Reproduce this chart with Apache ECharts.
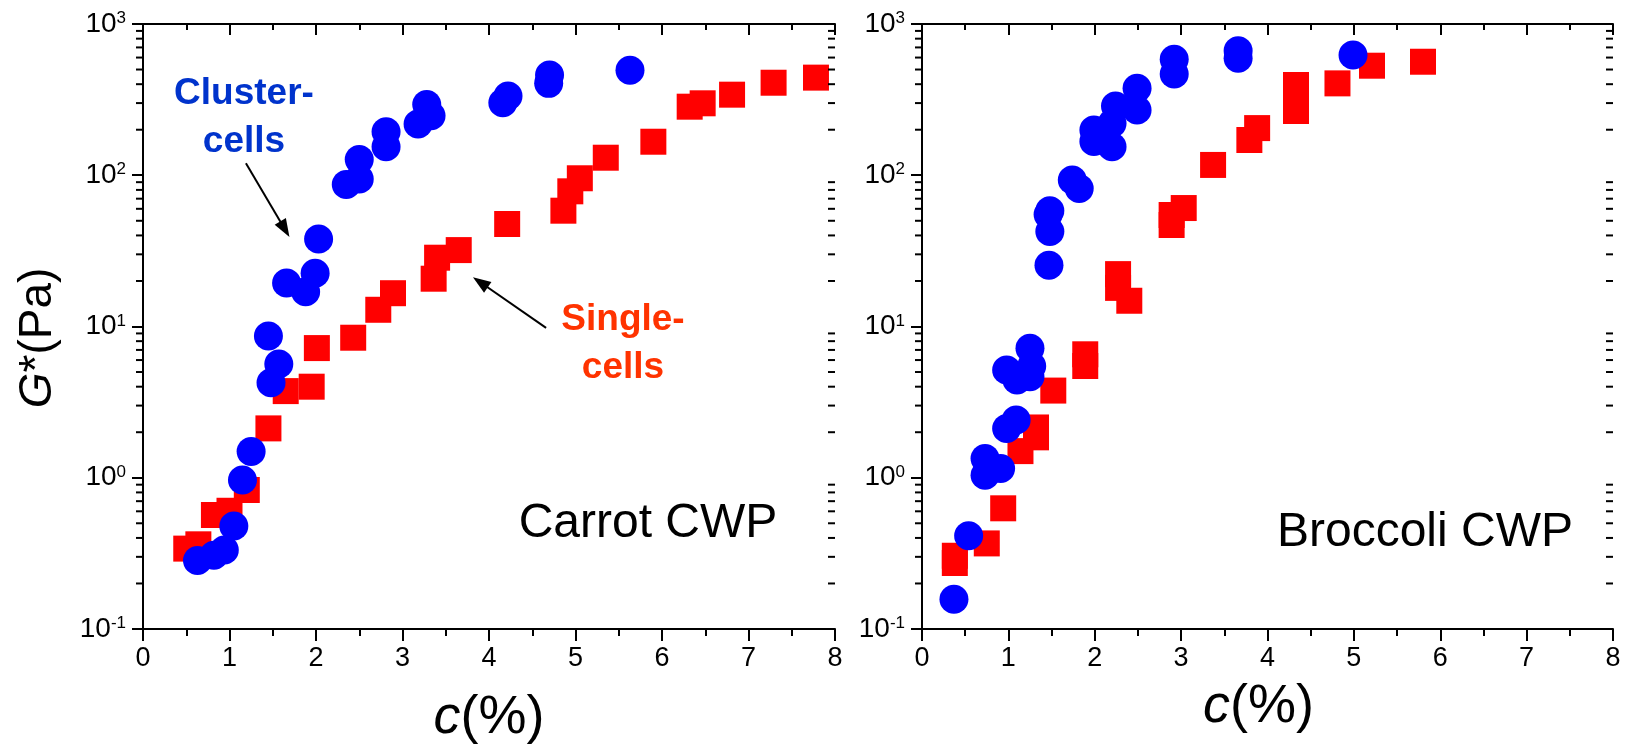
<!DOCTYPE html>
<html>
<head>
<meta charset="utf-8">
<title>G* vs c — Carrot and Broccoli CWP</title>
<script src="https://cdn.jsdelivr.net/npm/echarts@6/dist/echarts.min.js"></script>
<style>
  html, body { margin: 0; padding: 0; background: #fff; }
  #chart { width: 1633px; height: 756px; }
</style>
</head>
<body>
<div id="chart"></div>
<script>
// ---- Carrot CWP ----
const carrotClusterC = [0.63, 0.82, 0.94, 1.05, 1.15, 1.25, 1.45, 1.48, 1.57, 1.66, 1.88, 1.99, 2.03, 2.35, 2.50, 2.50, 2.81, 2.81, 3.18, 3.28, 3.33, 4.16, 4.22, 4.69, 4.70, 5.63];
const carrotClusterG = [0.284, 0.307, 0.333, 0.48, 0.966, 1.49, 8.65, 4.25, 5.65, 19.4, 17.0, 22.5, 37.9, 87, 94.5, 127, 154.5, 194, 218, 294, 247, 302, 334, 405, 460, 494];
const carrotSingleC = [0.50, 0.64, 0.82, 1.00, 1.20, 1.45, 1.65, 1.95, 2.01, 2.43, 2.72, 2.89, 3.36, 3.40, 3.65, 4.21, 4.86, 4.94, 5.05, 5.35, 5.90, 6.32, 6.47, 6.81, 7.29, 7.78];
const carrotSingleG = [0.34, 0.363, 0.567, 0.605, 0.83, 2.12, 3.74, 4.0, 7.2, 8.43, 12.9, 16.6, 20.7, 28.5, 32, 47.6, 58.3, 78.3, 95.5, 130.6, 166.6, 284, 299, 341, 409, 442];

// ---- Broccoli CWP ----
const broccoliClusterC = [0.37, 0.54, 0.73, 0.73, 0.91, 0.98, 0.98, 1.09, 1.10, 1.25, 1.25, 1.27, 1.47, 1.46, 1.48, 1.48, 1.74, 1.82, 1.99, 1.99, 2.20, 2.20, 2.24, 2.49, 2.49, 2.92, 2.92, 3.66, 3.66, 4.99];
const broccoliClusterG = [0.157, 0.414, 1.04, 1.34, 1.15, 2.12, 5.15, 2.41, 4.43, 7.18, 4.66, 5.48, 25.4, 55, 42.4, 58.3, 93, 81.8, 199, 167, 154.5, 220, 287, 376, 270, 584, 467, 666, 593, 624];
const broccoliSingleC = [0.38, 0.38, 0.75, 0.94, 1.14, 1.32, 1.32, 1.52, 1.89, 1.89, 2.27, 2.27, 2.40, 2.89, 2.89, 3.03, 3.37, 3.79, 3.88, 4.33, 4.33, 4.81, 5.21, 5.80];
const broccoliSingleG = [0.305, 0.273, 0.368, 0.628, 1.50, 2.15, 1.85, 3.77, 6.55, 5.48, 22.2, 18, 14.8, 54.6, 46.9, 60.7, 117, 171, 205, 395, 266, 405, 530, 563];

// ---- axes ----
const cTicks = [0, 1, 2, 3, 4, 5, 6, 7, 8];
const gDecades = [0.1, 1, 10, 100, 1000];
const gMinorTicks = [0.2, 0.3, 0.4, 0.5, 0.6, 0.7, 0.8, 0.9,
                     2, 3, 4, 5, 6, 7, 8, 9,
                     20, 30, 40, 50, 60, 70, 80, 90,
                     200, 300, 400, 500, 600, 700, 800, 900];

// annotation arrows (data coordinates: [c, G*])
const clusterArrow = [[1.19, 120], [1.64, 44]];
const singleArrow = [[4.66, 9.8], [3.90, 19.6]];

const FONT = '"Liberation Sans", Arial, sans-serif';
const BLUE = '#0000ff';
const RED = '#ff0000';
const AXIS = '#000';

const zip = (xs, ys) => xs.map((x, i) => [x, ys[i]]);

function xAxes(gridIndex) {
  const common = {
    type: 'value', gridIndex, min: cTicks[0], max: cTicks[cTicks.length - 1], interval: 1,
    axisLine: { onZero: false, lineStyle: { color: AXIS, width: 2 } },
    splitLine: { show: false }, minorSplitLine: { show: false }
  };
  return [
    Object.assign({}, common, {
      position: 'bottom',
      axisTick: { inside: false, length: 12, lineStyle: { color: AXIS, width: 2 } },
      minorTick: { show: true, splitNumber: 2, length: 7, lineStyle: { color: AXIS, width: 2 } },
      axisLabel: { fontSize: 27, color: '#000', margin: 16, fontFamily: FONT },
      name: '{i|c}{n|(%)}',
      nameLocation: 'middle',
      nameGap: gridIndex === 0 ? 62 : 51,
      nameTextStyle: {
        color: '#000', fontFamily: FONT, fontSize: 54,
        padding: gridIndex === 0 ? [0, 0, 0, 0] : [0, 18, 0, 0],
        rich: {
          i: { fontStyle: 'italic', fontSize: 54, fontFamily: FONT, color: '#000' },
          n: { fontSize: 54, fontFamily: FONT, color: '#000' }
        }
      }
    }),
    Object.assign({}, common, {
      position: 'top',
      axisTick: { inside: true, length: 11, lineStyle: { color: AXIS, width: 2 } },
      minorTick: { show: true, splitNumber: 2, length: 6, lineStyle: { color: AXIS, width: 2 } },
      axisLabel: { show: false }
    })
  ];
}

function yAxes(gridIndex) {
  const common = {
    type: 'log', logBase: 10, gridIndex,
    min: gDecades[0], max: gDecades[gDecades.length - 1],
    axisLine: { lineStyle: { color: AXIS, width: 2 } },
    splitLine: { show: false }
  };
  return [
    Object.assign({}, common, {
      position: 'left',
      axisTick: { inside: false, length: 11, lineStyle: { color: AXIS, width: 2 } },
      axisLabel: {
        margin: 17,
        formatter: v => '{b|10}{s|' + Math.round(Math.log10(v)) + '}',
        rich: {
          b: { fontSize: 28, fontFamily: FONT, color: '#000' },
          s: { fontSize: 17, fontFamily: FONT, color: '#000', verticalAlign: 'top' }
        }
      }
    }),
    Object.assign({}, common, {
      position: 'right',
      axisTick: { inside: true, length: 11, lineStyle: { color: AXIS, width: 2 } },
      axisLabel: { show: false }
    })
  ];
}

// minor log ticks on both vertical sides of a panel
function minorTickSeries(gridIndex) {
  return {
    type: 'custom',
    xAxisIndex: gridIndex * 2,
    yAxisIndex: gridIndex * 2,
    silent: true,
    clip: false,
    z: 5,
    data: gMinorTicks.map(v => [cTicks[0], v]),
    renderItem: (params, api) => {
      const v = api.value(1);
      const pl = api.coord([cTicks[0], v]);
      const pr = api.coord([cTicks[cTicks.length - 1], v]);
      const st = { stroke: AXIS, lineWidth: 2 };
      return {
        type: 'group',
        children: [
          { type: 'line', shape: { x1: pl[0] - 7, y1: pl[1], x2: pl[0], y2: pl[1] }, style: st },
          { type: 'line', shape: { x1: pr[0] - 7, y1: pr[1], x2: pr[0], y2: pr[1] }, style: st }
        ]
      };
    }
  };
}

function scatter(gridIndex, data, symbol, size, color, extra) {
  return Object.assign({
    type: 'scatter',
    xAxisIndex: gridIndex * 2,
    yAxisIndex: gridIndex * 2,
    symbol, symbolSize: size,
    itemStyle: { color, opacity: 1 },
    data
  }, extra || {});
}

const arrowLine = (pts) => [{ coord: pts[0], symbol: 'none' }, { coord: pts[1], symbol: 'triangle' }];

const chart = echarts.init(document.getElementById('chart'), null, { renderer: 'canvas' });

chart.setOption({
  animation: false,
  backgroundColor: '#fff',
  grid: [
    { left: 143, top: 24, width: 692, height: 605 },
    { left: 922, top: 24, width: 691, height: 605 }
  ],
  xAxis: [...xAxes(0), ...xAxes(1)],
  yAxis: [...yAxes(0), ...yAxes(1)],
  series: [
    scatter(0, zip(carrotSingleC, carrotSingleG), 'rect', 26, RED),
    scatter(0, zip(carrotClusterC, carrotClusterG), 'circle', 29, BLUE, {
      markLine: {
        silent: true,
        animation: false,
        symbolSize: [13, 18],
        lineStyle: { color: '#000', width: 2, type: 'solid' },
        itemStyle: { color: '#000' },
        label: { show: false },
        emphasis: { disabled: true },
        data: [arrowLine(clusterArrow), arrowLine(singleArrow)]
      }
    }),
    scatter(1, zip(broccoliSingleC, broccoliSingleG), 'rect', 26, RED),
    scatter(1, zip(broccoliClusterC, broccoliClusterG), 'circle', 29, BLUE),
    minorTickSeries(0),
    minorTickSeries(1)
  ],
  graphic: [
    {
      type: 'text', x: 38, y: 338, rotation: Math.PI / 2,
      style: {
        text: '{i|G}{n|*(Pa)}',
        align: 'center', verticalAlign: 'middle',
        textAlign: 'center', textVerticalAlign: 'middle',
        rich: {
          i: { fontStyle: 'italic', fontSize: 46, fontFamily: FONT, fill: '#000' },
          n: { fontSize: 46, fontFamily: FONT, fill: '#000' }
        }
      }
    },
    {
      type: 'text', x: 244, y: 70,
      style: {
        text: 'Cluster-\ncells', fill: '#0033cc',
        fontSize: 37, fontWeight: 'bold', fontFamily: FONT, lineHeight: 48,
        align: 'center', verticalAlign: 'top', textAlign: 'center', textVerticalAlign: 'top'
      }
    },
    {
      type: 'text', x: 623, y: 296,
      style: {
        text: 'Single-\ncells', fill: '#ff3300',
        fontSize: 37, fontWeight: 'bold', fontFamily: FONT, lineHeight: 48,
        align: 'center', verticalAlign: 'top', textAlign: 'center', textVerticalAlign: 'top'
      }
    },
    {
      type: 'text', x: 648, y: 524,
      style: {
        text: 'Carrot CWP', fill: '#000', fontSize: 48, fontFamily: FONT,
        align: 'center', verticalAlign: 'middle', textAlign: 'center', textVerticalAlign: 'middle'
      }
    },
    {
      type: 'text', x: 1425, y: 533,
      style: {
        text: 'Broccoli CWP', fill: '#000', fontSize: 48, fontFamily: FONT,
        align: 'center', verticalAlign: 'middle', textAlign: 'center', textVerticalAlign: 'middle'
      }
    }
  ]
});
</script>
</body>
</html>
